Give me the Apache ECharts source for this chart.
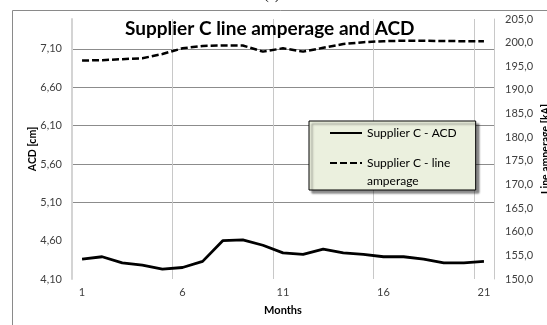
<!DOCTYPE html>
<html><head><meta charset="utf-8">
<script src="https://cdn.jsdelivr.net/npm/echarts@6/dist/echarts.min.js"></script>
<style>html,body{margin:0;padding:0;background:#fff}#c{width:547px;height:325px}</style>
</head><body><div id="c"></div>
<script>
const titleText = 'Supplier C line amperage and ACD';
const figTag = '(a)';
const months = ['1','2','3','4','5','6','7','8','9','10','11','12','13','14','15','16','17','18','19','20','21'];
const acdName = 'Supplier C - ACD';
const ampName = 'Supplier C - line\namperage';
const acd = [4.36,4.39,4.31,4.28,4.23,4.25,4.33,4.60,4.61,4.54,4.44,4.42,4.49,4.44,4.42,4.39,4.39,4.36,4.31,4.31,4.33];
const amperage = [196.2,196.3,196.5,196.7,197.6,198.8,199.3,199.4,199.4,198.1,198.8,198.1,198.9,199.7,200.1,200.3,200.4,200.4,200.35,200.3,200.3];
const acdAxis = {name:'ACD [cm]', min:4.1, max:7.49, step:0.5};
const ampAxis = {name:'Line amperage [kA]', min:150, max:205, step:5};
const xName = 'Months';

const FONT = 'Lato';
const chart = echarts.init(document.getElementById('c'), null, {renderer:'canvas'});
const T = 'rgba(0,0,0,0)', G = '#8c8c8c';
chart.setOption({
  backgroundColor:'#fff',
  animation:false,
  title:{text:titleText, left:125, top:19, padding:0,
    textStyle:{fontFamily:FONT, fontWeight:'bold', fontSize:19, color:'#000'}},
  graphic:[
    {type:'rect', left:10, top:8, shape:{width:560, height:340}, style:{fill:'none', stroke:'#8a8a8a', lineWidth:1}, silent:true},
    {type:'text', left:264, top:-12, style:{text:figTag, font:'14px "Liberation Serif"', fill:'#000'}}
  ],
  legend:{
    orient:'vertical', left:309, top:121,
    padding:[3,19,0,20], itemGap:-6, itemWidth:32, itemHeight:14,
    backgroundColor:'#ebf0de', borderColor:'#000', borderWidth:1,
    shadowColor:'rgba(0,0,0,0.45)', shadowBlur:2, shadowOffsetX:3, shadowOffsetY:3,
    itemStyle:{opacity:0},
    textStyle:{fontFamily:FONT, fontSize:12, color:'#000', lineHeight:18},
    formatter:name => name === ampName ? '\n' + name : name,
    data:[acdName, ampName]
  },
  grid:{left:72, right:53, top:19, bottom:46, containLabel:false, outerBoundsMode:'none'},
  xAxis:{type:'category', data:months, boundaryGap:true,
    name:xName, nameLocation:'middle', nameGap:26, nameMoveOverlap:false,
    nameTextStyle:{fontFamily:FONT, fontWeight:'bold', fontSize:11, color:'#000'},
    axisLine:{show:false}, axisTick:{show:false},
    axisLabel:{interval:4, margin:8, fontFamily:FONT, fontSize:11, color:'#404040'},
    splitLine:{show:true, interval:4, lineStyle:{color:'#c8c8c8', width:1}}
  },
  yAxis:[
    {type:'value', position:'left', min:acdAxis.min, max:acdAxis.max, interval:acdAxis.step,
      name:acdAxis.name, nameLocation:'middle', nameGap:34, nameRotate:90, nameMoveOverlap:false,
      nameTextStyle:{fontFamily:FONT, fontWeight:'bold', fontSize:10.5, color:'#000'},
      axisLine:{show:true, lineStyle:{color:'#d4d4d4', width:2}},
      axisTick:{show:false},
      axisLabel:{margin:10, showMaxLabel:false, fontFamily:FONT, fontSize:11, color:'#404040',
        formatter:v=>v.toFixed(2).replace('.',',')},
      splitLine:{show:true, lineStyle:{color:[T,T,G,G,G,G,G,T], width:1}}
    },
    {type:'value', position:'right', min:ampAxis.min, max:ampAxis.max, interval:ampAxis.step,
      name:ampAxis.name, nameLocation:'middle', nameGap:46, nameRotate:90, nameMoveOverlap:false,
      nameTextStyle:{fontFamily:FONT, fontWeight:'bold', fontSize:10.5, color:'#000'},
      axisLine:{show:true, lineStyle:{color:'#c8c8c8', width:1}},
      axisTick:{show:false},
      axisLabel:{margin:11, fontFamily:FONT, fontSize:11, color:'#404040',
        formatter:v=>v.toFixed(1).replace('.',',')},
      splitLine:{show:false}
    }
  ],
  series:[
    {name:acdName, type:'line', yAxisIndex:0, data:acd, symbol:'none', smooth:false,
      lineStyle:{color:'#000', width:2.8, type:'solid'}, itemStyle:{color:'#000'}},
    {name:ampName, type:'line', yAxisIndex:1, data:amperage, symbol:'none', smooth:false,
      lineStyle:{color:'#000', width:2.5, type:[7,3]}, itemStyle:{color:'#000'}}
  ]
});
</script></body></html>
